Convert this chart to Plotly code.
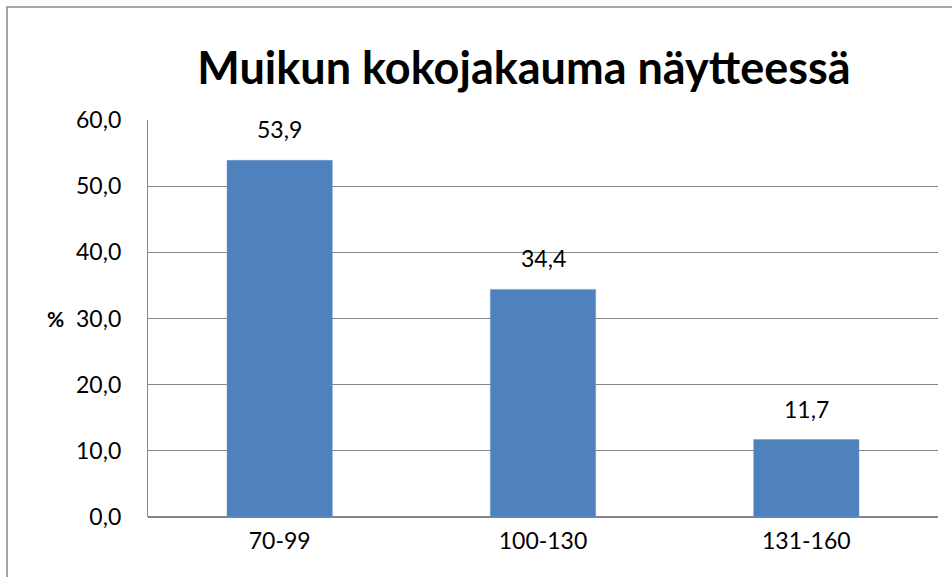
import plotly.graph_objects as go

categories = ["70-99", "100-130", "131-160"]
values = [53.9, 34.4, 11.7]
y_ticks = [0, 10, 20, 30, 40, 50, 60]

W, H = 952, 577
L, R, T, B = 148, 14, 120, 60
pw, ph = W - L - R, H - T - B

FONT = "Lato"
GRID = "#868686"

fig = go.Figure(go.Bar(
    x=categories, y=values,
    marker=dict(color="#4F81BD", line=dict(color="#6f97cc", width=0.5)),
    hoverinfo="skip",
))

for c, v in zip(categories, values):
    fig.add_annotation(x=c, y=v, text=f"{v:.1f}".replace(".", ","),
                       showarrow=False, xanchor="center", yanchor="middle",
                       yshift=31,
                       font=dict(family=FONT, size=23, color="#000000"))

fig.update_layout(
    width=W, height=H,
    margin=dict(l=L, r=R, t=T, b=B, autoexpand=False),
    paper_bgcolor="white", plot_bgcolor="white",
    separators=", ",
    bargap=0.60,
    showlegend=False,
    font=dict(family=FONT, size=23, color="#000000"),
    title=dict(text="<b>Muikun kokojakauma näytteessä</b>",
               font=dict(family=FONT, size=45, color="#000000"),
               x=524 / W, xanchor="center",
               y=1 - 68 / H, yanchor="middle"),
)

fig.update_xaxes(showgrid=False, showline=False, ticks="",
                 ticklabelstandoff=8,
                 tickfont=dict(family=FONT, size=23, color="#000000"))
fig.update_yaxes(range=[0, 60], tickvals=y_ticks, tickformat=".1f",
                 showgrid=True, gridcolor=GRID, gridwidth=1.3,
                 showline=True, linecolor=GRID, linewidth=1.3,
                 zeroline=True, zerolinecolor=GRID, zerolinewidth=1.5,
                 ticks="", ticklabelstandoff=21,
                 tickfont=dict(family=FONT, size=23, color="#000000"))

fig.add_annotation(text="<b>%</b>", xref="paper", yref="y",
                   x=(55 - L) / pw, y=30, showarrow=False,
                   xanchor="center", yanchor="middle",
                   font=dict(family=FONT, size=21, color="#000000"))

# chart frame
fig.add_shape(type="rect", xref="paper", yref="paper",
              x0=(7 - L) / pw, x1=(965 - L) / pw,
              y0=(H - B - 590) / ph, y1=(H - B - 7) / ph,
              line=dict(color="#8a8a8a", width=1.5), layer="below")

fig.write_html("out.html", config={"displayModeBar": False},
               post_script="document.body.style.margin='0';document.body.style.padding='0';")
